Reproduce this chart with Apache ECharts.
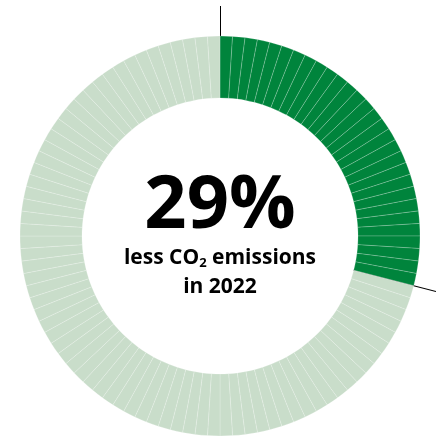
<!DOCTYPE html>
<html>
<head>
<meta charset="utf-8">
<script src="https://cdn.jsdelivr.net/npm/echarts@6/dist/echarts.min.js"></script>
<style>
html, body { margin: 0; padding: 0; background: #fff; }
#main { width: 436px; height: 444px; }
</style>
</head>
<body>
<div id="main"></div>
<script>
// share of the ring: reduction vs. remainder, drawn as 1% ticks
var parts = ['less CO2 emissions', 'rest'];
var partValues = [29, 71];
var partColors = ['#00843c', '#c9ddca'];
var bigLabel = '29%';
var subLines = ['less CO', '2', ' emissions', 'in 2022'];

var cx = 220, cy = 236, rIn = 138, rOut = 200;

var ticks = [];
for (var p = 0; p < partValues.length; p++) {
	for (var k = 0; k < partValues[p]; k++) {
		ticks.push({
			name: parts[p],
			value: 1,
			itemStyle: { color: partColors[p] }
		});
	}
}

var myChart = echarts.init(document.getElementById('main'));

var total = partValues[0] + partValues[1];
var ang = partValues[0] / total * Math.PI * 2;
var dx = Math.sin(ang), dy = -Math.cos(ang);
var endR = (436 - cx) / dx;

option = {
	backgroundColor: '#fff',
	animation: false,
	series: [{
		type: 'pie',
		silent: true,
		center: [cx, cy],
		radius: [rIn, rOut],
		startAngle: 90,
		clockwise: true,
		label: { show: false },
		labelLine: { show: false },
		itemStyle: {
			borderColor: 'rgba(255,255,255,0.45)',
			borderWidth: 0.45
		},
		data: ticks
	}],
	graphic: [
		{
			type: 'line',
			silent: true,
			shape: { x1: cx + 0.5, y1: 6, x2: cx + 0.5, y2: cy - rIn },
			style: { stroke: '#000', lineWidth: 1 }
		},
		{
			type: 'line',
			silent: true,
			shape: {
				x1: cx + dx * rIn, y1: cy + dy * rIn,
				x2: cx + dx * endR, y2: cy + dy * endR
			},
			style: { stroke: '#000', lineWidth: 1.1 }
		},
		{
			type: 'text',
			silent: true,
			x: cx,
			y: 207,
			style: {
				text: bigLabel,
				fill: '#000',
				font: 'bold 74px "Open Sans"',
				align: 'center',
				verticalAlign: 'middle'
			}
		},
		{
			type: 'text',
			silent: true,
			x: cx,
			y: 258,
			style: {
				text: '{a|' + subLines[0] + '}{s|' + subLines[1] + '}{a|' + subLines[2] + '}',
				align: 'center',
				verticalAlign: 'middle',
				rich: {
					a: { font: 'bold 21px "Open Sans"', fill: '#000' },
					s: { font: 'bold 13px "Open Sans"', fill: '#000', padding: [10, 0, 0, 0] }
				}
			}
		},
		{
			type: 'text',
			silent: true,
			x: cx,
			y: 287,
			style: {
				text: subLines[3],
				fill: '#000',
				font: 'bold 21px "Open Sans"',
				align: 'center',
				verticalAlign: 'middle'
			}
		}
	]
};

myChart.setOption(option);
</script>
</body>
</html>
